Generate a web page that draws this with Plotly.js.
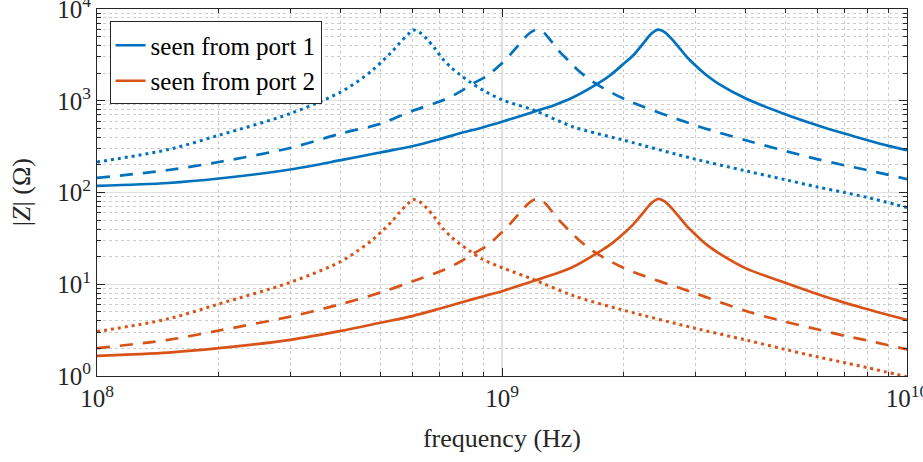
<!DOCTYPE html>
<html>
<head>
<meta charset="utf-8">
<script src="https://cdn.plot.ly/plotly-3.0.1.min.js"></script>
<style>
html,body{margin:0;padding:0;background:#fff;}
#chart{width:923px;height:462px;}
</style>
</head>
<body>
<div id="chart"></div>
<script>
// Frequencies (Hz) for each resonance curve
const freqSolid = [1e8, 1.5e8, 2e8, 3e8, 4e8, 5e8, 6e8, 7e8, 8e8, 9e8, 1e9, 1.2e9, 1.35e9, 1.5e9, 1.75e9, 1.85e9, 2.0e9, 2.11e9, 2.23e9, 2.34e9, 2.43e9, 2.52e9, 2.62e9, 2.75e9, 2.86e9, 3.0e9, 3.2e9, 3.42e9, 4e9, 5e9, 6e9, 7e9, 8e9, 9e9, 1e10];
const freqDashed = [1e8, 1.5e8, 2e8, 3e8, 4e8, 5e8, 6e8, 7.22e8, 7.86e8, 8.48e8, 9.15e8, 9.87e8, 1.045e9, 1.106e9, 1.171e9, 1.216e9, 1.263e9, 1.337e9, 1.389e9, 1.47e9, 1.541e9, 1.679e9, 2e9, 3e9, 4e9, 5e9, 6e9, 7e9, 8e9, 1e10];
const freqDotted = [1e8, 1.5e8, 2e8, 3e8, 4e8, 4.54e8, 4.81e8, 5.09e8, 5.34e8, 5.59e8, 5.865e8, 6.03e8, 6.24e8, 6.51e8, 6.83e8, 7.16e8, 7.51e8, 7.87e8, 8.33e8, 8.98e8, 1.007e9, 1.2e9, 1.5e9, 2e9, 3e9, 4e9, 5e9, 6e9, 7e9, 8e9, 1e10];

// |Z| seen from port 1 (Ohm)
const port1Solid = [118, 127, 142, 178, 225, 273, 319, 381, 450, 515, 590, 760, 900, 1090, 1603, 1897, 2541, 3131, 4200, 5400, 5950, 5610, 4760, 3705, 3000, 2440, 1897, 1540, 1057, 713, 541, 439, 371, 322, 289];
const port1Dashed = [144, 176, 215, 306, 439, 560, 774, 1030, 1247, 1540, 1849, 2440, 3131, 4200, 5480, 5950, 5610, 4200, 3403, 2650, 2150, 1603, 1050, 541, 371, 284, 231, 198, 175, 140];
const port1Dotted = [215, 294, 421, 725, 1247, 1790, 2188, 2761, 3403, 4266, 5300, 5900, 5610, 4760, 3705, 2812, 2276, 1928, 1603, 1300, 1013, 788, 519, 371, 231, 172, 138, 115, 100, 88, 68.7];

// |Z| seen from port 2 (Ohm)
const port2Solid = [1.66, 1.8, 2.01, 2.48, 3.1, 3.8, 4.5, 5.4, 6.4, 7.4, 8.4, 10.9, 12.9, 15.5, 23, 27, 36, 45, 60, 77, 85, 80, 68, 53, 43, 35, 27, 22, 14.9, 10.4, 7.84, 6.3, 5.33, 4.62, 4.08];
const port2Dashed = [2.01, 2.48, 3.13, 4.44, 6.07, 8.1, 10.7, 14.5, 17.5, 21.5, 26, 35, 45, 60, 78, 85, 80, 60, 49, 38, 31, 23, 15, 7.98, 5.11, 3.91, 3.23, 2.75, 2.43, 1.95];
const port2Dotted = [3.05, 4.2, 6.1, 10.5, 17.7, 25.5, 31, 39, 48, 61, 76, 84, 80, 68, 53, 40, 32.5, 27.5, 23, 18.6, 15, 11.2, 7.5, 5.2, 3.31, 2.47, 1.95, 1.62, 1.40, 1.23, 0.98];

const seriesNames = ['seen from port 1', 'seen from port 2'];
const xTickVals = [1e8, 1e9, 1e10];
const xTickText = ['10<sup>8</sup>', '10<sup>9</sup>', '10<sup>10</sup>'];
const yTickVals = [1, 10, 100, 1000, 10000];
const yTickText = ['10<sup>0</sup>', '10<sup>1</sup>', '10<sup>2</sup>', '10<sup>3</sup>', '10<sup>4</sup>'];
const xTitle = 'frequency (Hz)';
const yTitle = '|<i>Z</i>| (Ω)';

const BLUE = '#0072BD', ORANGE = '#D95319';
const FONT = 'Liberation Serif';
const AX = '#262626';

function tr(x, y, color, dash, name, show, width) {
  return {
    x: x, y: y, type: 'scatter', mode: 'lines',
    line: {color: color, width: width || 2.7, dash: dash, shape: 'spline', smoothing: 0.9},
    name: name || '', showlegend: !!show, hoverinfo: 'skip'
  };
}

const data = [
  tr(freqSolid, port1Solid, BLUE, 'solid', seriesNames[0], true),
  tr(freqSolid, port2Solid, ORANGE, 'solid', seriesNames[1], true),
  tr(freqDashed, port1Dashed, BLUE, '13px,10px'),
  tr(freqDotted, port1Dotted, BLUE, '3px,4px', '', false, 3),
  tr(freqDashed, port2Dashed, ORANGE, '13px,10px'),
  tr(freqDotted, port2Dotted, ORANGE, '3px,4px', '', false, 3)
];

function axis(extra) {
  return Object.assign({
    type: 'log', showline: true, linecolor: AX, linewidth: 1, mirror: 'ticks',
    ticks: 'inside', ticklen: 8, tickwidth: 1, tickcolor: AX,
    showgrid: true, gridcolor: '#e0e0e0', gridwidth: 1.2, zeroline: false,
    ticklabeloverflow: 'allow',
    tickfont: {family: FONT, size: 25, color: AX},
    minor: {dtick: 'D1', showgrid: true, gridcolor: '#cccccc', griddash: 'dot', gridwidth: 1,
            ticks: 'inside', ticklen: 4, tickcolor: AX, tickwidth: 1}
  }, extra);
}

const layout = {
  width: 923, height: 462,
  margin: {l: 97, r: 16, t: 9, b: 86, pad: 0},
  paper_bgcolor: '#ffffff', plot_bgcolor: '#ffffff',
  font: {family: FONT, size: 25, color: AX},
  xaxis: axis({range: [8, 10], tickmode: 'array', tickvals: xTickVals, ticktext: xTickText,
    title: {text: xTitle, font: {family: FONT, size: 26, color: AX}, standoff: 17}}),
  yaxis: axis({range: [0, 4], tickmode: 'array', tickvals: yTickVals, ticktext: yTickText}),
  annotations: [{
    text: yTitle, xref: 'paper', yref: 'paper', x: -0.093, y: 0.5,
    xanchor: 'center', yanchor: 'middle', textangle: -90, showarrow: false,
    font: {family: FONT, size: 26, color: AX}
  }],
  legend: {
    x: 0.0155, y: 0.966, xanchor: 'left', yanchor: 'top',
    bgcolor: '#ffffff', bordercolor: AX, borderwidth: 1,
    font: {family: FONT, size: 25, color: '#000000'},
    tracegroupgap: 0, itemwidth: 30
  },
  showlegend: true
};

Plotly.newPlot('chart', data, layout, {staticPlot: true, displayModeBar: false});
</script>
</body>
</html>
